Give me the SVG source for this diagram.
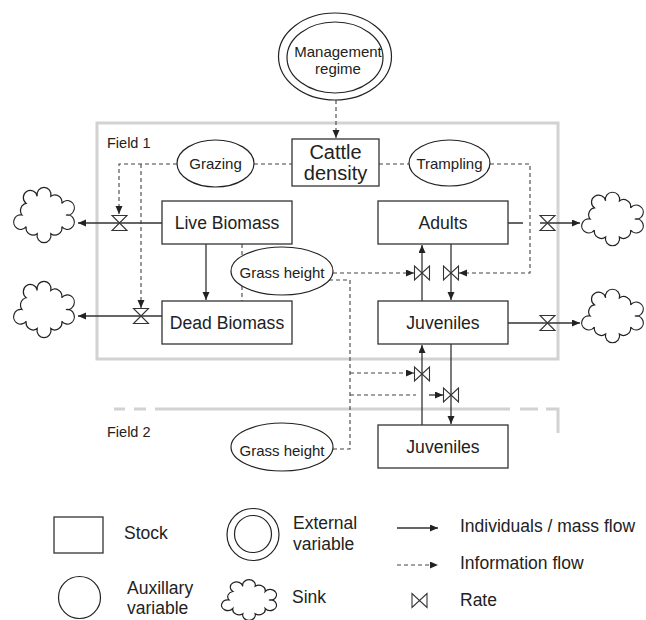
<svg xmlns="http://www.w3.org/2000/svg" xmlns:xlink="http://www.w3.org/1999/xlink" width="646" height="620" viewBox="0 0 646 620">
<style>
  text { font-family: "Liberation Sans", Arial, sans-serif; fill: #222; }
  .box { fill: #fff; stroke: #333; stroke-width: 1.3; }
  .ell { fill: #fff; stroke: #222; stroke-width: 1.2; }
  .flow { fill: none; stroke: #333; stroke-width: 1.3; }
  .info { fill: none; stroke: #444; stroke-width: 1.1; stroke-dasharray: 4 3; }
  .field { fill: none; stroke: #d2d2d2; stroke-width: 3; }
  .rate { fill: #fff; stroke: #333; stroke-width: 1.1; }
  .cloud { fill: #fff; stroke: #222; stroke-width: 1.2; }
  .lbl { font-size: 15px; }
  .stk { font-size: 17.6px; }
  .leg { font-size: 17.5px; }
</style>
<defs>
  <marker id="arr" markerUnits="userSpaceOnUse" markerWidth="9" markerHeight="8" refX="8" refY="3.5" orient="auto">
    <path d="M0,0 L8,3.5 L0,7 Z" fill="#222"/>
  </marker>
  <path id="hg" class="rate" d="M-7.5,-7.5 H7.5 L-7.5,7.5 H7.5 Z"/>
  <path id="bt" class="rate" d="M-7.5,-7 V7 L7.5,-7 V7 Z"/>
  <symbol id="cloud" viewBox="0 0 64 58" preserveAspectRatio="none" overflow="visible">
    <path class="cloud" vector-effect="non-scaling-stroke" d="M54,29 A7,7 0 1 1 49.8,40.17 A7,7 0 0 1 38.8,47.07 A7,7 0 1 1 25.2,47.07 A7,7 0 0 1 14.2,40.17 A7,7 0 1 1 10,29 A7,7 0 0 1 14.2,17.83 A7,7 0 1 1 25.2,10.93 A7,7 0 1 1 38.8,10.93 A7,7 0 0 1 49.8,17.83 A7,7 0 1 1 54,29 Z"/>
  </symbol>
</defs>

<!-- Field containers -->
<g id="field1">
  <rect class="field" x="97" y="123" width="461" height="236"/>
  <text x="107" y="148" font-size="14.5">Field 1</text>
</g>
<g id="field2">
  <path class="field" d="M114,409 H125 M134,409 H146 M155,409 H510 M520,409 H538 M546,409 H558 V433"/>
  <text x="107" y="437" font-size="14.5">Field 2</text>
</g>

<!-- Connectors -->
<g id="connectors">
  <path class="info" d="M336,100 V138" marker-end="url(#arr)"/>
  <path class="info" d="M254,164 H292"/>
  <path class="info" d="M177,164 H119 V214" marker-end="url(#arr)"/>
  <path class="info" d="M141,164 V308" marker-end="url(#arr)"/>
  <path class="info" d="M379,164 H409"/>
  <path class="info" d="M490,164 H530 V273 H459" marker-end="url(#arr)"/>
  <path class="flow" d="M162,223 H78" marker-end="url(#arr)"/>
  <path class="flow" d="M162,316 H78" marker-end="url(#arr)"/>
  <path class="flow" d="M206,244 V300" marker-end="url(#arr)"/>
  <path class="info" d="M242,244 V301"/>
  <path class="flow" d="M422,301 V245" marker-end="url(#arr)"/>
  <path class="flow" d="M451,244 V300" marker-end="url(#arr)"/>
  <path class="flow" d="M508,223 H523 M540,223 H580" marker-end="url(#arr)"/>
  <path class="flow" d="M508,323 H580" marker-end="url(#arr)"/>
  <path class="flow" d="M422,425 V345" marker-end="url(#arr)"/>
  <path class="flow" d="M451,344 V424" marker-end="url(#arr)"/>
  <path class="info" d="M333,273 H414" marker-end="url(#arr)"/>
  <path class="info" d="M329,280 H350 V449 H333"/>
  <path class="info" d="M350,373 H414" marker-end="url(#arr)"/>
  <path class="info" d="M350,395 H416"/>
  <path class="flow" d="M429,395 H443" marker-end="url(#arr)"/>
  <use href="#hg" x="119.5" y="223"/>
  <use href="#hg" x="141" y="316"/>
  <use href="#bt" x="422" y="273"/>
  <use href="#bt" x="451" y="273"/>
  <use href="#hg" x="547.5" y="223"/>
  <use href="#hg" x="547.5" y="323"/>
  <use href="#bt" x="422" y="374"/>
  <use href="#bt" x="451" y="395"/>
</g>

<!-- Nodes -->
<g id="management-regime">
  <ellipse class="ell" cx="335" cy="56.5" rx="56.5" ry="43.5"/>
  <ellipse class="ell" cx="335" cy="57.5" rx="48" ry="35.5"/>
  <text class="lbl" x="338" y="57" text-anchor="middle">Management</text>
  <text class="lbl" x="338" y="74" text-anchor="middle">regime</text>
</g>
<g id="cattle-density">
  <rect class="box" x="292" y="139" width="87" height="47"/>
  <text x="335.5" y="159" font-size="20" text-anchor="middle">Cattle</text>
  <text x="335.5" y="180" font-size="20" text-anchor="middle">density</text>
</g>
<g id="grazing">
  <ellipse class="ell" cx="215.5" cy="163.5" rx="38.5" ry="23.5"/>
  <text class="lbl" x="215.5" y="169" text-anchor="middle">Grazing</text>
</g>
<g id="trampling">
  <ellipse class="ell" cx="449.5" cy="163" rx="40.5" ry="23"/>
  <text class="lbl" x="449.5" y="169" text-anchor="middle">Trampling</text>
</g>
<g id="live-biomass">
  <rect class="box" x="162" y="201" width="130" height="43"/>
  <text class="stk" x="227" y="229" text-anchor="middle">Live Biomass</text>
</g>
<g id="dead-biomass">
  <rect class="box" x="162" y="301" width="130" height="43"/>
  <text class="stk" x="227" y="329" text-anchor="middle">Dead Biomass</text>
</g>
<g id="grass-height-1">
  <ellipse class="ell" cx="282" cy="271" rx="51" ry="24"/>
  <text class="lbl" x="282" y="278" text-anchor="middle">Grass height</text>
</g>
<g id="adults">
  <rect class="box" x="378" y="201" width="130" height="43"/>
  <text class="stk" x="443" y="229" text-anchor="middle">Adults</text>
</g>
<g id="juveniles-1">
  <rect class="box" x="378" y="301" width="130" height="43"/>
  <text class="stk" x="443" y="329" text-anchor="middle">Juveniles</text>
</g>
<g id="juveniles-2">
  <rect class="box" x="378" y="425" width="130" height="43"/>
  <text class="stk" x="443" y="453" text-anchor="middle">Juveniles</text>
</g>
<g id="grass-height-2">
  <ellipse class="ell" cx="282" cy="447" rx="51" ry="24"/>
  <text class="lbl" x="282" y="456" text-anchor="middle">Grass height</text>
</g>
<g id="sink-live"><use href="#cloud" x="12" y="185" width="64" height="60"/></g>
<g id="sink-dead"><use href="#cloud" x="12" y="279" width="64" height="61"/></g>
<g id="sink-adults"><use href="#cloud" x="580" y="190" width="65" height="58"/></g>
<g id="sink-juveniles"><use href="#cloud" x="580" y="287" width="65" height="58"/></g>

<!-- Legend -->
<g id="legend">
  <rect class="box" x="54" y="517" width="49" height="36"/>
  <text class="leg" x="124" y="539">Stock</text>
  <circle class="ell" cx="253" cy="534.5" r="26"/>
  <circle class="ell" cx="253" cy="534" r="18.5"/>
  <text class="leg" x="293" y="529">External</text>
  <text class="leg" x="293" y="550">variable</text>
  <path class="flow" d="M397,528 H438" marker-end="url(#arr)"/>
  <text class="leg" x="460" y="532">Individuals / mass flow</text>
  <path class="info" d="M397,565 H438" marker-end="url(#arr)"/>
  <text class="leg" x="460" y="569">Information flow</text>
  <circle class="ell" cx="79.5" cy="597.5" r="21"/>
  <text class="leg" x="127" y="594">Auxillary</text>
  <text class="leg" x="127" y="614">variable</text>
  <use href="#cloud" x="220" y="578" width="58" height="44"/>
  <text class="leg" x="292" y="603">Sink</text>
  <use href="#bt" x="419.5" y="600.5"/>
  <text class="leg" x="460" y="606">Rate</text>
</g>
</svg>
